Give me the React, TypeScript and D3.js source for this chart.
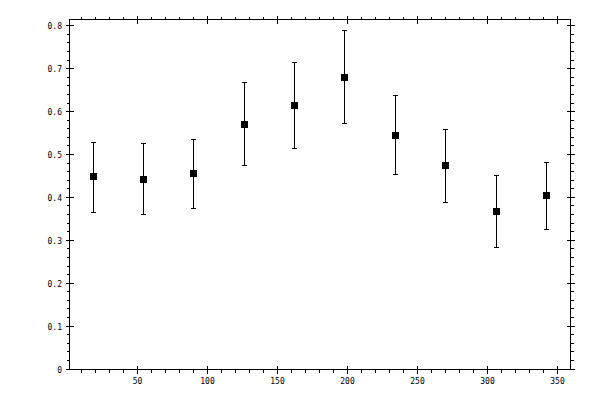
import React from "react";
import * as d3 from "d3";

const xValues = [18, 54, 90, 126, 162, 198, 234, 270, 306, 342];
const yValues = [0.448, 0.441, 0.455, 0.569, 0.6135, 0.679, 0.5436, 0.4737, 0.366, 0.4037];
const yUpper = [0.529, 0.525, 0.536, 0.667, 0.714, 0.788, 0.637, 0.559, 0.451, 0.4806];
const yLower = [0.364, 0.359, 0.373, 0.474, 0.513, 0.5716, 0.4527, 0.387, 0.2825, 0.3245];
const xMajorTicks = [50, 100, 150, 200, 250, 300, 350];
const yMajorTicks = [0, 0.1, 0.2, 0.3, 0.4, 0.5, 0.6, 0.7, 0.8];

export default function App() {
  const W = 600, H = 400;
  const left = 69.5, right = 570.5, top = 19.5, bottom = 369.5;
  const x = d3.scaleLinear().domain([1.5, 359.5]).range([left, right]);
  const y = d3.scaleLinear().domain([-0.0023, 0.8135]).range([bottom, top]);

  const xMinor = d3.range(10, 360, 10).filter((v) => v % 50 !== 0);
  const yMinor = d3.range(0, 0.811, 0.02).filter((v) => Math.abs(v * 10 - Math.round(v * 10)) > 1e-6);

  const font = "'DejaVu Sans Mono', monospace";
  const sq = 7;
  const cap = 2.5;

  return (
    <svg width={W} height={H} style={{ position: "absolute", left: 0, top: 0, background: "#fff" }} shapeRendering="crispEdges">
      <rect x={0} y={0} width={W} height={H} fill="#fff" />
      <rect x={left} y={top} width={right - left} height={bottom - top} fill="none" stroke="#000" strokeWidth={1} />
      {/* x ticks bottom & top */}
      {xMinor.map((v) => {
        const px = Math.round(x(v)) + 0.5;
        return (
          <g key={"xm" + v} stroke="#000">
            <line x1={px} x2={px} y1={bottom} y2={bottom + 3} />
            <line x1={px} x2={px} y1={top} y2={top - 3} />
          </g>
        );
      })}
      {xMajorTicks.map((v) => {
        const px = Math.round(x(v)) + 0.5;
        return (
          <g key={"xM" + v}>
            <line x1={px} x2={px} y1={bottom - 4} y2={bottom + 4} stroke="#000" />
            <line x1={px} x2={px} y1={top - 4} y2={top + 4} stroke="#000" />
            <text x={px} y={384} textAnchor="middle" fontFamily={font} fontSize={8} fill="#000">
              {String(v)}
            </text>
          </g>
        );
      })}
      {/* y ticks left & right */}
      {yMinor.map((v) => {
        const py = Math.round(y(v)) + 0.5;
        return (
          <g key={"ym" + v} stroke="#000">
            <line x1={left} x2={left - 3} y1={py} y2={py} />
            <line x1={right} x2={right + 3} y1={py} y2={py} />
          </g>
        );
      })}
      {yMajorTicks.map((v) => {
        const py = Math.round(y(v)) + 0.5;
        return (
          <g key={"yM" + v}>
            <line x1={left - 4} x2={left + 4} y1={py} y2={py} stroke="#000" />
            <line x1={right - 4} x2={right + 4} y1={py} y2={py} stroke="#000" />
            <text x={62} y={py + 3} textAnchor="end" fontFamily={font} fontSize={8} fill="#000">
              {String(v)}
            </text>
          </g>
        );
      })}
      {/* error bars */}
      {xValues.map((xv, i) => {
        const px = Math.round(x(xv)) + 0.5;
        const yu = Math.round(y(yUpper[i])) + 0.5;
        const yl = Math.round(y(yLower[i])) + 0.5;
        const yc = y(yValues[i]);
        return (
          <g key={"p" + i}>
            <line x1={px} x2={px} y1={yu} y2={yl} stroke="#000" />
            <line x1={px - cap} x2={px + cap} y1={yu} y2={yu} stroke="#000" />
            <line x1={px - cap} x2={px + cap} y1={yl} y2={yl} stroke="#000" />
            <rect x={Math.round(px - sq / 2)} y={Math.round(yc - sq / 2)} width={sq} height={sq} fill="#000" />
          </g>
        );
      })}
    </svg>
  );
}
